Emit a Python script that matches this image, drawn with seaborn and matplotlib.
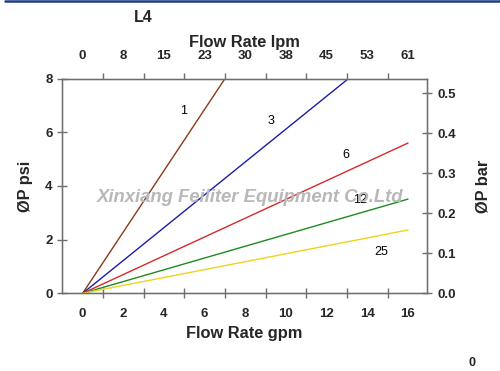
import matplotlib
matplotlib.use("Agg")
import matplotlib.pyplot as plt
import seaborn as sns
import pandas as pd
from matplotlib.lines import Line2D
from matplotlib.ticker import FixedLocator

# ---- data ----
series = ["1", "3", "6", "12", "25"]
flow_gpm = {
    "1": [0, 7.0],
    "3": [0, 13.07],
    "6": [0, 16.0],
    "12": [0, 16.0],
    "25": [0, 16.0],
}
dp_psi = {
    "1": [0, 8.0],
    "3": [0, 8.0],
    "6": [0, 5.6],
    "12": [0, 3.51],
    "25": [0, 2.36],
}
colors = ["#8b3a1a", "#1c1ca8", "#d42a2a", "#1e8a1e", "#f0d21e"]
label_pos_x = [4.98, 9.26, 12.93, 13.64, 14.7]
label_pos_y = [6.78, 6.43, 5.16, 3.48, 1.55]

bottom_ticks = [0, 2, 4, 6, 8, 10, 12, 14, 16]
top_tick_labels = ["0", "8", "15", "23", "30", "38", "45", "53", "61"]
minor_ticks = [1, 3, 5, 7, 9, 11, 13, 15]
left_ticks = [0, 2, 4, 6, 8]
right_ticks = [0.0, 0.1, 0.2, 0.3, 0.4, 0.5]

rows = []
for s in series:
    for x, y in zip(flow_gpm[s], dp_psi[s]):
        rows.append({"series": s, "gpm": x, "psi": y})
df = pd.DataFrame(rows)

sns.set_style("white")
plt.rcParams["font.family"] = ["Liberation Sans", "DejaVu Sans"]

fig = plt.figure(figsize=(5.0, 3.71), dpi=100)
ax = fig.add_axes([0.1234, 0.2094, 0.730, 0.5787])

sns.lineplot(data=df, x="gpm", y="psi", hue="series", hue_order=series,
             palette=colors, legend=False, ax=ax, linewidth=1.0,
             estimator=None, sort=False)

ax.set_xlim(-1.03, 16.92)
ax.set_ylim(0, 8)

spine_col = "#6e6e6e"
for sp in ax.spines.values():
    sp.set_color(spine_col)
    sp.set_linewidth(1.0)

TL = 9.5
AL = 11.8
ax.xaxis.set_major_locator(FixedLocator(bottom_ticks))
ax.xaxis.set_minor_locator(FixedLocator(minor_ticks))
ax.set_xticklabels([str(t) for t in bottom_ticks])
ax.tick_params(axis="x", which="major", length=0, pad=10.5, labelsize=TL)
ax.tick_params(axis="x", which="minor", length=7, direction="inout",
               color=spine_col, width=1.0, bottom=True)
ax.set_yticks(left_ticks)
ax.set_yticklabels([str(t) for t in left_ticks])
ax.tick_params(axis="y", which="major", length=7, direction="inout",
               color=spine_col, width=1.0, labelsize=TL, pad=3, left=True)
for lab in ax.get_xticklabels() + ax.get_yticklabels():
    lab.set_fontweight("bold")

ax.set_xlabel("Flow Rate gpm", fontsize=AL, fontweight="bold", labelpad=4.5)
ax.set_ylabel("ØP psi", fontsize=AL, fontweight="bold", labelpad=9)

# top axis (lpm)
axt = ax.twiny()
axt.set_xlim(ax.get_xlim())
axt.xaxis.set_major_locator(FixedLocator(bottom_ticks))
axt.xaxis.set_minor_locator(FixedLocator(minor_ticks))
axt.set_xticklabels(top_tick_labels)
axt.tick_params(axis="x", which="major", length=0, pad=12, labelsize=TL)
axt.tick_params(axis="x", which="minor", length=4, direction="out",
                color=spine_col, width=1.0, top=True)
for lab in axt.get_xticklabels():
    lab.set_fontweight("bold")
axt.set_xlabel("Flow Rate lpm", fontsize=AL, fontweight="bold", labelpad=2)
for sp in axt.spines.values():
    sp.set_color(spine_col)

# right axis (bar)
axr = ax.twinx()
axr.set_ylim(0, 0.536)
axr.set_yticks(right_ticks)
axr.set_yticklabels([f"{t:.1f}" for t in right_ticks])
axr.tick_params(axis="y", length=7, direction="inout", color=spine_col,
                width=1.0, labelsize=TL, pad=4, right=True)
for lab in axr.get_yticklabels():
    lab.set_fontweight("bold")
axr.set_ylabel("ØP bar", fontsize=AL, fontweight="bold", labelpad=14)
for sp in axr.spines.values():
    sp.set_color(spine_col)

# series labels
for s, lx, ly in zip(series, label_pos_x, label_pos_y):
    ax.text(lx, ly, s, fontsize=9, ha="center", va="center", color="black")

# watermark
fig.text(0.5, 1 - 197 / 371, "Xinxiang Feiliter Equipment Co.Ltd",
         fontsize=13.3, fontweight="bold", fontstyle="italic",
         color="#b8b8b8", ha="center", va="center")

# title and corner text
fig.text(143 / 500, 1 - 17 / 371, "L4", fontsize=11.5, fontweight="bold",
         ha="center", va="center")
fig.text(472 / 500, 1 - 363 / 371, "0", fontsize=9, fontweight="bold",
         ha="center", va="center")

# top border line
fig.add_artist(Line2D([0.01, 1.0], [0.996, 0.996], color="#1f3c88",
                      linewidth=1.8, transform=fig.transFigure))

fig.savefig("out.png", dpi=100)
